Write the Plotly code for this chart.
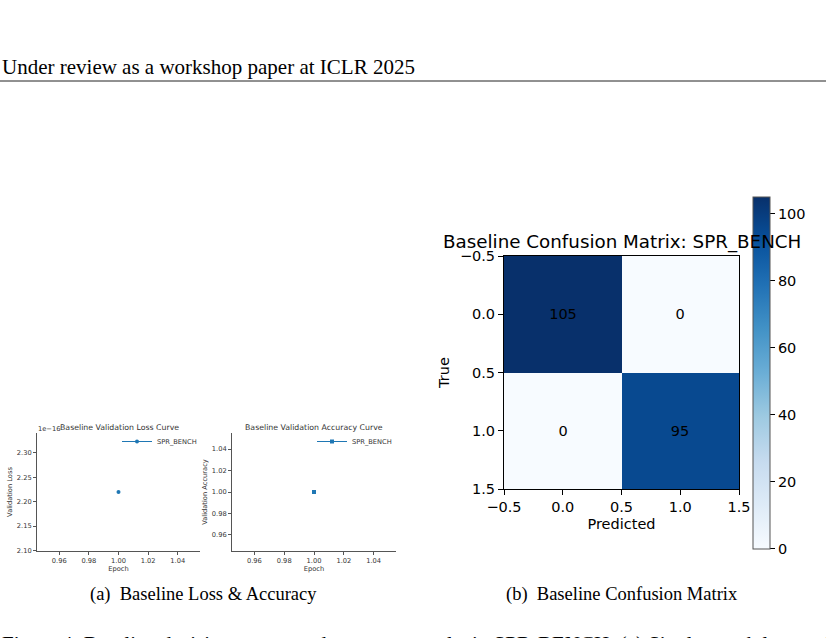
import plotly.graph_objects as go

W, H = 826, 638

# ---- data ----
dataset = "SPR_BENCH"
epochs = [1]
val_loss = [2.22e-16]
val_acc = [1.0]
loss_offset = 1e-16

loss_ticks = [2.10, 2.15, 2.20, 2.25, 2.30]
acc_ticks = [0.96, 0.98, 1.00, 1.02, 1.04]
epoch_ticks = [0.96, 0.98, 1.00, 1.02, 1.04]

cm_labels = [0, 1]
cm_values = [[105, 0], [0, 95]]
cm_ticks = [-0.5, 0.0, 0.5, 1.0, 1.5]
cbar_ticks = [0, 20, 40, 60, 80, 100]

header = "Under review as a workshop paper at ICLR 2025"
cap_a = "(a)  Baseline Loss & Accuracy"
cap_b = "(b)  Baseline Confusion Matrix"
fig_caption = ("Figure 4: Baseline decision curves and accuracy results in SPR-BENCH. "
               "(a) Single epoch loss and accuracy")

# matplotlib Blues
blues = ["#f7fbff", "#deebf7", "#c6dbef", "#9ecae1", "#6baed6",
         "#4292c6", "#2171b5", "#08519c", "#08306b"]
blues_scale = [[i / (len(blues) - 1), c] for i, c in enumerate(blues)]


def px(v):
    return v / W


def py(v):
    return 1 - v / H


def minus(t):
    return f"{t:.1f}".replace("-", "\u2212")


MPL = "DejaVu Sans"
SERIF = "Liberation Serif"
BLUE = "#1f77b4"
SPINE = "#555555"
TXT = "#333333"

fig = go.Figure()

# loss curve
fig.add_trace(go.Scatter(
    x=epochs, y=[v / loss_offset for v in val_loss], name=dataset,
    mode="lines+markers", line=dict(color=BLUE, width=1),
    marker=dict(size=4, color=BLUE), xaxis="x", yaxis="y", legend="legend"))

# accuracy curve
fig.add_trace(go.Scatter(
    x=epochs, y=val_acc, name=dataset,
    mode="lines+markers", line=dict(color=BLUE, width=1),
    marker=dict(size=4, color=BLUE, symbol="square"), xaxis="x2", yaxis="y2",
    legend="legend2"))

# confusion matrix
fig.add_trace(go.Heatmap(
    z=cm_values, x=cm_labels, y=cm_labels, colorscale=blues_scale,
    zmin=0, zmax=105, xaxis="x3", yaxis="y3",
    texttemplate="%{z}", textfont=dict(family=MPL, size=14.5, color="black"),
    hoverinfo="skip",
    colorbar=dict(
        x=px(753), xanchor="left", xpad=0,
        y=py(196.7), yanchor="top", ypad=0,
        len=351.6 / H, lenmode="fraction", thickness=17,
        outlinecolor=SPINE, outlinewidth=1,
        tickvals=cbar_ticks, ticks="outside", ticklen=5, tickcolor="black",
        tickfont=dict(family=MPL, size=14.5, color="black"))))

small_axis = dict(
    showline=True, linecolor=SPINE, linewidth=0.8, showgrid=False, zeroline=False,
    automargin=False,
    ticks="outside", ticklen=3, tickwidth=0.8, tickcolor=SPINE,
    tickfont=dict(family=MPL, size=6.7, color=TXT))

cm_axis = dict(
    showline=True, linecolor="black", linewidth=1, mirror=True, showgrid=False,
    zeroline=False, automargin=False, ticks="outside", ticklen=5, tickcolor="black",
    tickvals=cm_ticks, ticktext=[minus(t) for t in cm_ticks],
    tickfont=dict(family=MPL, size=14.5, color="black"))

fig.update_layout(
    width=W, height=H, margin=dict(l=0, r=0, t=0, b=0),
    paper_bgcolor="white", plot_bgcolor="white", showlegend=True,
    xaxis=dict(small_axis, domain=[px(37), px(200)], range=[0.945, 1.055],
               tickvals=epoch_ticks, tickformat=".2f", anchor="y",
               title=dict(text="Epoch", standoff=2, font=dict(family=MPL, size=6.7, color=TXT))),
    yaxis=dict(small_axis, domain=[py(551), py(433)], range=[2.099, 2.341],
               tickvals=loss_ticks, tickformat=".2f", anchor="x",
               title=dict(text="Validation Loss", standoff=3, font=dict(family=MPL, size=6.7, color=TXT))),
    xaxis2=dict(small_axis, domain=[px(232), px(396)], range=[0.945, 1.055],
                tickvals=epoch_ticks, tickformat=".2f", anchor="y2",
                title=dict(text="Epoch", standoff=2, font=dict(family=MPL, size=6.7, color=TXT))),
    yaxis2=dict(small_axis, domain=[py(551), py(433)], range=[0.945, 1.055],
                tickvals=acc_ticks, tickformat=".2f", anchor="x2",
                title=dict(text="Validation Accuracy", standoff=3, font=dict(family=MPL, size=6.7, color=TXT))),
    xaxis3=dict(cm_axis, domain=[px(504), px(739)], range=[-0.5, 1.5], anchor="y3",
                title=dict(text="Predicted", standoff=4, font=dict(family=MPL, size=14.5, color="black"))),
    yaxis3=dict(cm_axis, domain=[py(489), py(256)], range=[1.5, -0.5], anchor="x3",
                title=dict(text="True", standoff=6, font=dict(family=MPL, size=14.5, color="black"))),
    legend=dict(x=px(117), y=py(441.5), xanchor="left", yanchor="middle",
                bgcolor="rgba(0,0,0,0)", itemwidth=30, tracegroupgap=0,
                font=dict(family=MPL, size=6.7, color=TXT)),
    legend2=dict(x=px(312), y=py(441.5), xanchor="left", yanchor="middle",
                 bgcolor="rgba(0,0,0,0)", itemwidth=30, tracegroupgap=0,
                 font=dict(family=MPL, size=6.7, color=TXT)),
)

# header rule
fig.add_shape(type="line", xref="paper", yref="paper", x0=0, x1=1,
              y0=py(81), y1=py(81), line=dict(color="#222222", width=1))

ann = [
    dict(text=header, x=0, y=py(67), xanchor="left", yanchor="middle",
         font=dict(family=SERIF, size=21, color="black")),
    dict(text="Baseline Validation Loss Curve", x=px(120), y=py(428),
         xanchor="center", yanchor="middle", font=dict(family=MPL, size=7.8, color=TXT)),
    dict(text="1e\u221216", x=px(36), y=py(429), xanchor="left", yanchor="middle",
         font=dict(family=MPL, size=6.7, color=TXT)),
    dict(text="Baseline Validation Accuracy Curve", x=px(314), y=py(428),
         xanchor="center", yanchor="middle", font=dict(family=MPL, size=7.8, color=TXT)),
    dict(text="Baseline Confusion Matrix: " + dataset, x=px(621.5), y=py(242),
         xanchor="center", yanchor="middle", font=dict(family=MPL, size=18.3, color="black")),
    dict(text=cap_a, x=px(203), y=py(594), xanchor="center", yanchor="middle",
         font=dict(family=SERIF, size=18.5, color="black")),
    dict(text=cap_b, x=px(622), y=py(594), xanchor="center", yanchor="middle",
         font=dict(family=SERIF, size=18.5, color="black")),
    dict(text=fig_caption, x=0, y=py(630), xanchor="left", yanchor="top",
         font=dict(family=SERIF, size=21, color="black")),
]
for a in ann:
    fig.add_annotation(xref="paper", yref="paper", showarrow=False, **a)

# page body has a default 8px margin; drop it so the figure fills the window
fig.write_html("out.html", config={"displayModeBar": False},
               post_script="document.body.style.margin='0';")
